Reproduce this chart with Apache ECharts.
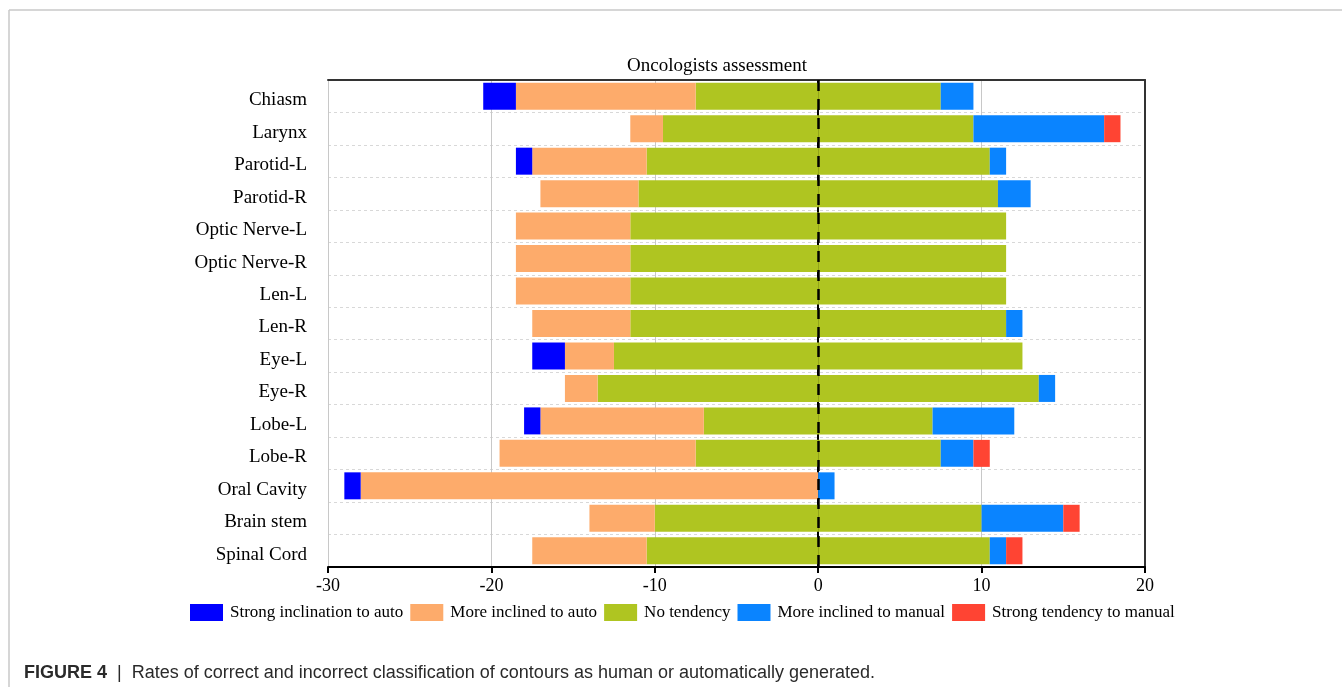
<!DOCTYPE html>
<html>
<head>
<meta charset="utf-8">
<script src="https://cdn.jsdelivr.net/npm/echarts@6/dist/echarts.min.js"></script>
<style>
    html, body { margin: 0; padding: 0; background: #fff; }
    #chart { width: 1342px; height: 687px; }
</style>
</head>
<body>
<div id="chart"></div>
<script>
var organs = ['Chiasm', 'Larynx', 'Parotid-L', 'Parotid-R', 'Optic Nerve-L', 'Optic Nerve-R', 'Len-L', 'Len-R',
    'Eye-L', 'Eye-R', 'Lobe-L', 'Lobe-R', 'Oral Cavity', 'Brain stem', 'Spinal Cord'];
var strongAuto = [2, 0, 1, 0, 0, 0, 0, 0, 2, 0, 1, 0, 1, 0, 0];
var moreAuto = [11, 2, 7, 6, 7, 7, 7, 6, 3, 2, 10, 12, 28, 4, 7];
var noTendency = [15, 19, 21, 22, 23, 23, 23, 23, 25, 27, 14, 15, 0, 20, 21];
var moreManual = [2, 8, 1, 2, 0, 0, 0, 1, 0, 1, 5, 2, 1, 5, 1];
var strongManual = [0, 1, 0, 0, 0, 0, 0, 0, 0, 0, 0, 1, 0, 1, 1];
var xTicks = [-30, -20, -10, 0, 10, 20];

var serif = '"Liberation Serif", "Times New Roman", serif';

document.addEventListener("DOMContentLoaded", () => {
    var chart = echarts.init(document.querySelector("#chart"));

    // bars stack outward from zero on each side, green split in half
    function bar(name, data, color, extra) {
        return Object.assign({
            name: name,
            type: 'bar',
            stack: 'all',
            barWidth: 27,
            data: data,
            itemStyle: {color: color},
            emphasis: {disabled: true}
        }, extra || {});
    }

    // plain frame lines for the top and right side of the plot box
    var frameX = {
        type: 'value', position: 'top', min: -30, max: 20, interval: 10,
        axisLine: {show: true, onZero: false, lineStyle: {color: '#333', width: 2}},
        axisTick: {show: false}, axisLabel: {show: false}, splitLine: {show: false}
    };
    var frameY = {
        type: 'category', position: 'right', data: organs, inverse: true,
        axisLine: {show: true, onZero: false, lineStyle: {color: '#333', width: 2}},
        axisTick: {show: false}, axisLabel: {show: false}, splitLine: {show: false}
    };

    chart.setOption({
        animation: false,
        title: {
            text: 'Oncologists assessment',
            left: 622,
            top: 52,
            textStyle: {fontFamily: serif, fontSize: 19, fontWeight: 'normal', color: '#000'}
        },
        grid: {
            left: 328,
            right: 197,
            top: 80,
            bottom: 120
        },
        legend: {
            data: ['Strong inclination to auto', 'More inclined to auto', 'No tendency', 'More inclined to manual', 'Strong tendency to manual'],
            left: 185,
            top: 599,
            itemWidth: 33,
            itemHeight: 17,
            itemGap: 7,
            icon: 'rect',
            textStyle: {fontFamily: serif, fontSize: 17, color: '#000', padding: [0, 0, 0, 2]}
        },
        xAxis: [{
            type: 'value',
            min: -30,
            max: 20,
            interval: 10,
            axisLine: {show: true, onZero: false, lineStyle: {color: '#000', width: 2}},
            axisTick: {show: true, length: 6, lineStyle: {color: '#000', width: 2}},
            axisLabel: {
                fontFamily: serif, fontSize: 18, color: '#000', margin: 10,
                formatter: v => xTicks.indexOf(v) >= 0 ? String(v) : ''
            },
            splitLine: {show: true, lineStyle: {color: '#c8c8c8', width: 1}}
        }, frameX],
        yAxis: [{
            type: 'category',
            data: organs,
            inverse: true,
            axisLine: {show: true, lineStyle: {color: '#000', width: 2}},
            axisTick: {show: false},
            axisLabel: {
                margin: 21,
                formatter: v => '{n|' + v + '}',
                rich: {n: {fontFamily: serif, fontSize: 19, color: '#000', padding: [8, 0, 0, 0]}}
            },
            splitLine: {show: true, lineStyle: {color: '#d8d8d8', type: [3, 3], width: 1}}
        }, frameY],
        series: [
            bar('No tendency', noTendency.map(v => -v / 2), '#afc521', {
                markLine: {
                    silent: true,
                    symbol: 'none',
                    label: {show: false},
                    lineStyle: {color: '#000', type: [11, 8], width: 2.5},
                    data: [{xAxis: 0}]
                }
            }),
            bar('No tendency', noTendency.map(v => v / 2), '#afc521'),
            bar('More inclined to auto', moreAuto.map(v => -v), '#fdab6b'),
            bar('Strong inclination to auto', strongAuto.map(v => -v), '#0000ff'),
            bar('More inclined to manual', moreManual, '#0a84ff'),
            bar('Strong tendency to manual', strongManual, '#ff4433')
        ],
        graphic: [
            {type: 'line', shape: {x1: 9, y1: 10, x2: 1342, y2: 10}, style: {stroke: '#c8c8c8', lineWidth: 1.5}},
            {type: 'line', shape: {x1: 9, y1: 10, x2: 9, y2: 687}, style: {stroke: '#c8c8c8', lineWidth: 1.5}},
            {
                type: 'text', left: 24, top: 664,
                style: {
                    text: '{b|FIGURE 4}  |  Rates of correct and incorrect classification of contours as human or automatically generated.',
                    fontFamily: '"Liberation Sans", Arial, sans-serif',
                    fontSize: 18,
                    fill: '#2a2a2a',
                    rich: {b: {fontWeight: 'bold', fontSize: 18, fill: '#2a2a2a',
                        fontFamily: '"Liberation Sans", Arial, sans-serif'}}
                }
            }
        ]
    });
});
</script>
</body>
</html>
